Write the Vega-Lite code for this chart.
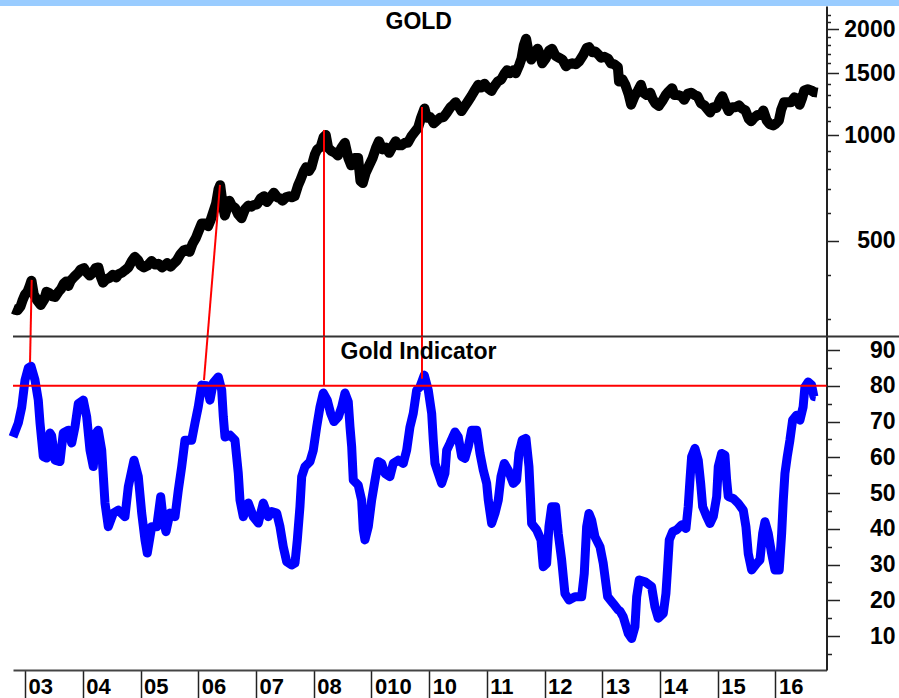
{
  "$schema": "https://vega.github.io/schema/vega-lite/v6.json",
  "width": 899,
  "height": 692,
  "autosize": {"type": "none"},
  "padding": {"top": 6, "left": 0, "right": 0, "bottom": 0},
  "background": "#99ccff",
  "config": {"view": {"fill": "white", "stroke": null}, "font": "Liberation Sans"},
  "datasets": {
    "gold": [
      {"year": 2002.79, "price": 320}, {"year": 2002.83, "price": 318}, {"year": 2002.87, "price": 317}, {"year": 2002.92, "price": 325}, {"year": 2002.96, "price": 340},
      {"year": 2003.00, "price": 352}, {"year": 2003.04, "price": 358}, {"year": 2003.08, "price": 372}, {"year": 2003.11, "price": 385}, {"year": 2003.15, "price": 352},
      {"year": 2003.21, "price": 338}, {"year": 2003.27, "price": 328}, {"year": 2003.33, "price": 340}, {"year": 2003.37, "price": 358}, {"year": 2003.42, "price": 355},
      {"year": 2003.46, "price": 348}, {"year": 2003.52, "price": 346}, {"year": 2003.58, "price": 358}, {"year": 2003.62, "price": 364}, {"year": 2003.67, "price": 378},
      {"year": 2003.71, "price": 383}, {"year": 2003.75, "price": 372}, {"year": 2003.79, "price": 385}, {"year": 2003.85, "price": 395}, {"year": 2003.92, "price": 405},
      {"year": 2003.96, "price": 414}, {"year": 2004.02, "price": 418}, {"year": 2004.06, "price": 408}, {"year": 2004.12, "price": 398}, {"year": 2004.17, "price": 405},
      {"year": 2004.22, "price": 418}, {"year": 2004.27, "price": 420}, {"year": 2004.31, "price": 395}, {"year": 2004.35, "price": 380}, {"year": 2004.40, "price": 388},
      {"year": 2004.46, "price": 392}, {"year": 2004.52, "price": 400}, {"year": 2004.58, "price": 393}, {"year": 2004.62, "price": 402}, {"year": 2004.67, "price": 405},
      {"year": 2004.73, "price": 412}, {"year": 2004.79, "price": 420}, {"year": 2004.85, "price": 438}, {"year": 2004.90, "price": 450}, {"year": 2004.96, "price": 440},
      {"year": 2005.00, "price": 426}, {"year": 2005.06, "price": 420}, {"year": 2005.12, "price": 425}, {"year": 2005.19, "price": 438}, {"year": 2005.25, "price": 428},
      {"year": 2005.31, "price": 430}, {"year": 2005.37, "price": 420}, {"year": 2005.42, "price": 425}, {"year": 2005.46, "price": 432}, {"year": 2005.52, "price": 422},
      {"year": 2005.58, "price": 432}, {"year": 2005.63, "price": 440}, {"year": 2005.69, "price": 458}, {"year": 2005.75, "price": 470}, {"year": 2005.79, "price": 472},
      {"year": 2005.85, "price": 465}, {"year": 2005.90, "price": 490}, {"year": 2005.96, "price": 510}, {"year": 2006.00, "price": 530}, {"year": 2006.06, "price": 560},
      {"year": 2006.12, "price": 560}, {"year": 2006.17, "price": 550}, {"year": 2006.21, "price": 570}, {"year": 2006.27, "price": 610}, {"year": 2006.31, "price": 640},
      {"year": 2006.35, "price": 700}, {"year": 2006.38, "price": 720}, {"year": 2006.42, "price": 640}, {"year": 2006.46, "price": 590}, {"year": 2006.50, "price": 620},
      {"year": 2006.54, "price": 650}, {"year": 2006.58, "price": 630}, {"year": 2006.64, "price": 620}, {"year": 2006.69, "price": 595}, {"year": 2006.75, "price": 580},
      {"year": 2006.81, "price": 615}, {"year": 2006.87, "price": 630}, {"year": 2006.92, "price": 625}, {"year": 2006.96, "price": 632}, {"year": 2007.02, "price": 635},
      {"year": 2007.08, "price": 660}, {"year": 2007.14, "price": 670}, {"year": 2007.19, "price": 645}, {"year": 2007.25, "price": 665}, {"year": 2007.31, "price": 685},
      {"year": 2007.37, "price": 665}, {"year": 2007.42, "price": 660}, {"year": 2007.46, "price": 650}, {"year": 2007.52, "price": 665}, {"year": 2007.58, "price": 670},
      {"year": 2007.62, "price": 665}, {"year": 2007.67, "price": 670}, {"year": 2007.73, "price": 720}, {"year": 2007.77, "price": 745}, {"year": 2007.83, "price": 790},
      {"year": 2007.87, "price": 810}, {"year": 2007.92, "price": 790}, {"year": 2007.96, "price": 810}, {"year": 2008.02, "price": 880}, {"year": 2008.06, "price": 910},
      {"year": 2008.12, "price": 925}, {"year": 2008.17, "price": 985}, {"year": 2008.21, "price": 1000}, {"year": 2008.25, "price": 920}, {"year": 2008.31, "price": 900},
      {"year": 2008.37, "price": 890}, {"year": 2008.42, "price": 875}, {"year": 2008.48, "price": 920}, {"year": 2008.54, "price": 950}, {"year": 2008.60, "price": 860},
      {"year": 2008.65, "price": 820}, {"year": 2008.71, "price": 860}, {"year": 2008.77, "price": 860}, {"year": 2008.81, "price": 740}, {"year": 2008.85, "price": 730},
      {"year": 2008.90, "price": 780}, {"year": 2008.96, "price": 820}, {"year": 2009.02, "price": 860}, {"year": 2009.08, "price": 920}, {"year": 2009.13, "price": 960},
      {"year": 2009.19, "price": 910}, {"year": 2009.25, "price": 920}, {"year": 2009.31, "price": 890}, {"year": 2009.37, "price": 930}, {"year": 2009.42, "price": 960},
      {"year": 2009.46, "price": 935}, {"year": 2009.52, "price": 935}, {"year": 2009.58, "price": 950}, {"year": 2009.63, "price": 950}, {"year": 2009.69, "price": 990},
      {"year": 2009.75, "price": 1020}, {"year": 2009.81, "price": 1050}, {"year": 2009.86, "price": 1120}, {"year": 2009.92, "price": 1190}, {"year": 2009.96, "price": 1120},
      {"year": 2010.02, "price": 1125}, {"year": 2010.08, "price": 1080}, {"year": 2010.12, "price": 1095}, {"year": 2010.19, "price": 1120}, {"year": 2010.25, "price": 1125},
      {"year": 2010.31, "price": 1160}, {"year": 2010.37, "price": 1200}, {"year": 2010.42, "price": 1220}, {"year": 2010.46, "price": 1240}, {"year": 2010.52, "price": 1200},
      {"year": 2010.56, "price": 1170}, {"year": 2010.62, "price": 1210}, {"year": 2010.67, "price": 1245}, {"year": 2010.73, "price": 1290}, {"year": 2010.79, "price": 1340},
      {"year": 2010.85, "price": 1390}, {"year": 2010.90, "price": 1365}, {"year": 2010.96, "price": 1400}, {"year": 2011.02, "price": 1360}, {"year": 2011.08, "price": 1335},
      {"year": 2011.12, "price": 1370}, {"year": 2011.19, "price": 1420}, {"year": 2011.25, "price": 1440}, {"year": 2011.31, "price": 1500}, {"year": 2011.35, "price": 1530},
      {"year": 2011.40, "price": 1500}, {"year": 2011.46, "price": 1530}, {"year": 2011.50, "price": 1500}, {"year": 2011.56, "price": 1580}, {"year": 2011.60, "price": 1650},
      {"year": 2011.64, "price": 1800}, {"year": 2011.68, "price": 1880}, {"year": 2011.73, "price": 1700}, {"year": 2011.77, "price": 1640}, {"year": 2011.83, "price": 1720},
      {"year": 2011.88, "price": 1760}, {"year": 2011.92, "price": 1700}, {"year": 2011.96, "price": 1600}, {"year": 2012.02, "price": 1650}, {"year": 2012.08, "price": 1740},
      {"year": 2012.13, "price": 1760}, {"year": 2012.19, "price": 1680}, {"year": 2012.25, "price": 1660}, {"year": 2012.31, "price": 1640}, {"year": 2012.37, "price": 1570},
      {"year": 2012.42, "price": 1590}, {"year": 2012.48, "price": 1600}, {"year": 2012.54, "price": 1590}, {"year": 2012.60, "price": 1620}, {"year": 2012.67, "price": 1690},
      {"year": 2012.73, "price": 1770}, {"year": 2012.77, "price": 1780}, {"year": 2012.83, "price": 1720}, {"year": 2012.88, "price": 1730}, {"year": 2012.94, "price": 1690},
      {"year": 2012.98, "price": 1660}, {"year": 2013.04, "price": 1670}, {"year": 2013.10, "price": 1650}, {"year": 2013.15, "price": 1600}, {"year": 2013.21, "price": 1590},
      {"year": 2013.27, "price": 1560}, {"year": 2013.29, "price": 1420}, {"year": 2013.35, "price": 1440}, {"year": 2013.40, "price": 1390}, {"year": 2013.46, "price": 1300},
      {"year": 2013.50, "price": 1220}, {"year": 2013.56, "price": 1290}, {"year": 2013.62, "price": 1340}, {"year": 2013.67, "price": 1390}, {"year": 2013.71, "price": 1320},
      {"year": 2013.77, "price": 1300}, {"year": 2013.83, "price": 1320}, {"year": 2013.87, "price": 1270}, {"year": 2013.92, "price": 1230}, {"year": 2013.98, "price": 1210},
      {"year": 2014.04, "price": 1250}, {"year": 2014.10, "price": 1300}, {"year": 2014.15, "price": 1330}, {"year": 2014.21, "price": 1360}, {"year": 2014.25, "price": 1300},
      {"year": 2014.31, "price": 1300}, {"year": 2014.37, "price": 1290}, {"year": 2014.42, "price": 1260}, {"year": 2014.48, "price": 1310}, {"year": 2014.54, "price": 1320},
      {"year": 2014.60, "price": 1300}, {"year": 2014.65, "price": 1290}, {"year": 2014.71, "price": 1230}, {"year": 2014.77, "price": 1215}, {"year": 2014.83, "price": 1180},
      {"year": 2014.87, "price": 1160}, {"year": 2014.92, "price": 1200}, {"year": 2014.98, "price": 1195}, {"year": 2015.04, "price": 1260}, {"year": 2015.08, "price": 1290},
      {"year": 2015.13, "price": 1230}, {"year": 2015.19, "price": 1170}, {"year": 2015.25, "price": 1200}, {"year": 2015.31, "price": 1200}, {"year": 2015.37, "price": 1215},
      {"year": 2015.42, "price": 1190}, {"year": 2015.48, "price": 1175}, {"year": 2015.54, "price": 1110}, {"year": 2015.58, "price": 1095}, {"year": 2015.63, "price": 1120},
      {"year": 2015.69, "price": 1140}, {"year": 2015.75, "price": 1140}, {"year": 2015.79, "price": 1175}, {"year": 2015.85, "price": 1100}, {"year": 2015.90, "price": 1075},
      {"year": 2015.96, "price": 1065}, {"year": 2016.00, "price": 1075}, {"year": 2016.06, "price": 1100}, {"year": 2016.10, "price": 1180}, {"year": 2016.15, "price": 1240},
      {"year": 2016.21, "price": 1240}, {"year": 2016.27, "price": 1240}, {"year": 2016.33, "price": 1280}, {"year": 2016.38, "price": 1270}, {"year": 2016.42, "price": 1220},
      {"year": 2016.46, "price": 1270}, {"year": 2016.50, "price": 1340}, {"year": 2016.56, "price": 1350}, {"year": 2016.62, "price": 1340}, {"year": 2016.67, "price": 1325},
      {"year": 2016.73, "price": 1320}
    ],
    "indicator": [
      {"year": 2002.79, "v": 65.7}, {"year": 2002.882, "v": 69.6}, {"year": 2002.941, "v": 74}, {"year": 2002.998, "v": 81.6}, {"year": 2003.055, "v": 85},
      {"year": 2003.102, "v": 85.5}, {"year": 2003.171, "v": 81.6}, {"year": 2003.228, "v": 76}, {"year": 2003.258, "v": 69.6}, {"year": 2003.287, "v": 64.8},
      {"year": 2003.315, "v": 60.2}, {"year": 2003.374, "v": 59.8}, {"year": 2003.431, "v": 66.8}, {"year": 2003.46, "v": 66}, {"year": 2003.518, "v": 59.2},
      {"year": 2003.604, "v": 58.8}, {"year": 2003.661, "v": 66.8}, {"year": 2003.748, "v": 67.6}, {"year": 2003.807, "v": 64}, {"year": 2003.864, "v": 68.5},
      {"year": 2003.921, "v": 75}, {"year": 2004.008, "v": 76}, {"year": 2004.067, "v": 71.3}, {"year": 2004.124, "v": 62}, {"year": 2004.181, "v": 57.4},
      {"year": 2004.228, "v": 66.8}, {"year": 2004.268, "v": 67.6}, {"year": 2004.327, "v": 62}, {"year": 2004.384, "v": 47.2}, {"year": 2004.441, "v": 40.6},
      {"year": 2004.528, "v": 44.4}, {"year": 2004.614, "v": 45.2}, {"year": 2004.73, "v": 43.4}, {"year": 2004.788, "v": 51.8}, {"year": 2004.886, "v": 59.2},
      {"year": 2004.961, "v": 54.6}, {"year": 2005.02, "v": 44.4}, {"year": 2005.077, "v": 36.9}, {"year": 2005.117, "v": 33.2}, {"year": 2005.193, "v": 40.6},
      {"year": 2005.28, "v": 40.6}, {"year": 2005.349, "v": 49}, {"year": 2005.394, "v": 42.4}, {"year": 2005.441, "v": 39.2}, {"year": 2005.51, "v": 44.4},
      {"year": 2005.597, "v": 43.4}, {"year": 2005.654, "v": 50.8}, {"year": 2005.713, "v": 57.4}, {"year": 2005.77, "v": 64.8}, {"year": 2005.886, "v": 64.8},
      {"year": 2005.943, "v": 69.6}, {"year": 2006.0, "v": 74.1}, {"year": 2006.059, "v": 80.2}, {"year": 2006.146, "v": 80}, {"year": 2006.203, "v": 76},
      {"year": 2006.26, "v": 80.8}, {"year": 2006.347, "v": 82.5}, {"year": 2006.406, "v": 78.8}, {"year": 2006.434, "v": 71.3}, {"year": 2006.463, "v": 65.7},
      {"year": 2006.55, "v": 66.2}, {"year": 2006.636, "v": 64.8}, {"year": 2006.693, "v": 55.6}, {"year": 2006.723, "v": 48}, {"year": 2006.78, "v": 43.4},
      {"year": 2006.867, "v": 47.2}, {"year": 2006.953, "v": 43.4}, {"year": 2007.04, "v": 41.6}, {"year": 2007.126, "v": 47.2}, {"year": 2007.213, "v": 43.4},
      {"year": 2007.272, "v": 44.8}, {"year": 2007.359, "v": 44.4}, {"year": 2007.416, "v": 40.6}, {"year": 2007.473, "v": 35}, {"year": 2007.532, "v": 30.8},
      {"year": 2007.618, "v": 29.9}, {"year": 2007.676, "v": 30.4}, {"year": 2007.716, "v": 36.9}, {"year": 2007.762, "v": 46.2}, {"year": 2007.792, "v": 54.6},
      {"year": 2007.849, "v": 57.4}, {"year": 2007.936, "v": 58.8}, {"year": 2007.993, "v": 62}, {"year": 2008.052, "v": 68.5}, {"year": 2008.109, "v": 74.1},
      {"year": 2008.166, "v": 78}, {"year": 2008.235, "v": 76}, {"year": 2008.294, "v": 72.3}, {"year": 2008.351, "v": 70}, {"year": 2008.426, "v": 71.3},
      {"year": 2008.485, "v": 74.1}, {"year": 2008.542, "v": 78}, {"year": 2008.599, "v": 75.5}, {"year": 2008.629, "v": 68.5}, {"year": 2008.658, "v": 63},
      {"year": 2008.686, "v": 53.6}, {"year": 2008.772, "v": 52.2}, {"year": 2008.831, "v": 48}, {"year": 2008.859, "v": 39.7}, {"year": 2008.888, "v": 36.9},
      {"year": 2008.946, "v": 40.6}, {"year": 2009.004, "v": 48}, {"year": 2009.062, "v": 53.6}, {"year": 2009.119, "v": 58.8}, {"year": 2009.178, "v": 58.3},
      {"year": 2009.235, "v": 55.5}, {"year": 2009.321, "v": 54.6}, {"year": 2009.379, "v": 58.3}, {"year": 2009.465, "v": 59.2}, {"year": 2009.552, "v": 58.3},
      {"year": 2009.611, "v": 62}, {"year": 2009.668, "v": 68.5}, {"year": 2009.725, "v": 72.3}, {"year": 2009.784, "v": 78.8}, {"year": 2009.841, "v": 79.7},
      {"year": 2009.916, "v": 83}, {"year": 2009.985, "v": 78.8}, {"year": 2010.044, "v": 72.3}, {"year": 2010.072, "v": 64.8}, {"year": 2010.101, "v": 58.3},
      {"year": 2010.158, "v": 55.5}, {"year": 2010.217, "v": 52.7}, {"year": 2010.274, "v": 55.5}, {"year": 2010.304, "v": 62}, {"year": 2010.361, "v": 63.9},
      {"year": 2010.448, "v": 67.1}, {"year": 2010.505, "v": 65.7}, {"year": 2010.564, "v": 60.2}, {"year": 2010.621, "v": 59.7}, {"year": 2010.678, "v": 63},
      {"year": 2010.737, "v": 67.6}, {"year": 2010.824, "v": 67.6}, {"year": 2010.881, "v": 61.1}, {"year": 2010.938, "v": 56.4}, {"year": 2010.997, "v": 52.7},
      {"year": 2011.025, "v": 48}, {"year": 2011.083, "v": 41.5}, {"year": 2011.141, "v": 44.3}, {"year": 2011.198, "v": 48}, {"year": 2011.245, "v": 54.6},
      {"year": 2011.302, "v": 58.3}, {"year": 2011.371, "v": 56.4}, {"year": 2011.458, "v": 52.7}, {"year": 2011.516, "v": 53.6}, {"year": 2011.556, "v": 61.1},
      {"year": 2011.613, "v": 64.8}, {"year": 2011.678, "v": 65.3}, {"year": 2011.73, "v": 57.4}, {"year": 2011.752, "v": 49.9}, {"year": 2011.776, "v": 41.5},
      {"year": 2011.863, "v": 39.7}, {"year": 2011.938, "v": 36.9}, {"year": 2011.977, "v": 29.4}, {"year": 2012.036, "v": 30.3}, {"year": 2012.076, "v": 40.6},
      {"year": 2012.123, "v": 46.2}, {"year": 2012.192, "v": 46.2}, {"year": 2012.237, "v": 38.7}, {"year": 2012.296, "v": 31.3}, {"year": 2012.353, "v": 21.9},
      {"year": 2012.423, "v": 20.1}, {"year": 2012.527, "v": 21}, {"year": 2012.643, "v": 21}, {"year": 2012.688, "v": 27.5}, {"year": 2012.729, "v": 40.6},
      {"year": 2012.769, "v": 44.3}, {"year": 2012.816, "v": 42.4}, {"year": 2012.873, "v": 37.8}, {"year": 2012.96, "v": 35}, {"year": 2013.017, "v": 30.3},
      {"year": 2013.093, "v": 21}, {"year": 2013.19, "v": 19.1}, {"year": 2013.277, "v": 17.3}, {"year": 2013.306, "v": 17}, {"year": 2013.363, "v": 15.4},
      {"year": 2013.45, "v": 10.7}, {"year": 2013.509, "v": 9.3}, {"year": 2013.566, "v": 12.6}, {"year": 2013.596, "v": 21}, {"year": 2013.641, "v": 25.7},
      {"year": 2013.739, "v": 25.2}, {"year": 2013.855, "v": 23.8}, {"year": 2013.912, "v": 18.2}, {"year": 2013.97, "v": 15}, {"year": 2014.057, "v": 16.3},
      {"year": 2014.103, "v": 21.9}, {"year": 2014.133, "v": 29.4}, {"year": 2014.161, "v": 36.9}, {"year": 2014.219, "v": 39.2}, {"year": 2014.289, "v": 39.7},
      {"year": 2014.375, "v": 41.1}, {"year": 2014.45, "v": 40.1}, {"year": 2014.489, "v": 46.2}, {"year": 2014.519, "v": 53.6}, {"year": 2014.548, "v": 60.2},
      {"year": 2014.606, "v": 62.5}, {"year": 2014.663, "v": 59.2}, {"year": 2014.705, "v": 52.7}, {"year": 2014.739, "v": 46.2}, {"year": 2014.809, "v": 43.4},
      {"year": 2014.866, "v": 41.5}, {"year": 2014.923, "v": 43.4}, {"year": 2014.982, "v": 49}, {"year": 2015.01, "v": 57.4}, {"year": 2015.068, "v": 61.1},
      {"year": 2015.125, "v": 60.6}, {"year": 2015.155, "v": 53.6}, {"year": 2015.183, "v": 49}, {"year": 2015.269, "v": 48.5}, {"year": 2015.356, "v": 47.1},
      {"year": 2015.443, "v": 45.2}, {"year": 2015.489, "v": 40.6}, {"year": 2015.529, "v": 33.1}, {"year": 2015.588, "v": 28.5}, {"year": 2015.675, "v": 30.3},
      {"year": 2015.732, "v": 31.3}, {"year": 2015.779, "v": 38.7}, {"year": 2015.819, "v": 42}, {"year": 2015.876, "v": 38.7}, {"year": 2015.934, "v": 33.1},
      {"year": 2015.992, "v": 28.5}, {"year": 2016.066, "v": 28.5}, {"year": 2016.108, "v": 38.7}, {"year": 2016.136, "v": 48}, {"year": 2016.165, "v": 55.5},
      {"year": 2016.205, "v": 60.2}, {"year": 2016.251, "v": 64.8}, {"year": 2016.298, "v": 70.4}, {"year": 2016.368, "v": 71.8}, {"year": 2016.425, "v": 70.4},
      {"year": 2016.48, "v": 74.1}, {"year": 2016.511, "v": 79.7}, {"year": 2016.568, "v": 81.1}, {"year": 2016.627, "v": 80.2}, {"year": 2016.667, "v": 77},
      {"year": 2016.702, "v": 76.9}
    ],
    "linksTop": [
      {"year": 2003.114, "price": 387, "year2": 2003.094, "price2": 267},
      {"year": 2006.376, "price": 721, "year2": 2006.161, "price2": 267},
      {"year": 2008.178, "price": 1034, "year2": 2008.178, "price2": 267},
      {"year": 2009.876, "price": 1202, "year2": 2009.876, "price2": 267}
    ],
    "linksBottom": [
      {"year": 2003.094, "v": 93.8, "year2": 2003.085, "v2": 86.6},
      {"year": 2006.161, "v": 93.8, "year2": 2006.099, "v2": 81.6},
      {"year": 2008.178, "v": 93.8, "year2": 2008.178, "v2": 80},
      {"year": 2009.876, "v": 93.8, "year2": 2009.876, "v2": 82}
    ]
  },
  "layer": [
    {
      "layer": [
        {
          "data": {"name": "gold"},
          "mark": {"type": "line", "color": "black", "strokeWidth": 10, "strokeJoin": "round"},
          "encoding": {
            "x": {
              "field": "year", "type": "quantitative",
              "scale": {"domain": [2002.79, 2016.885], "range": [13, 826.5], "nice": false, "zero": false},
              "axis": {
                "orient": "bottom", "offset": -28, "values": [2003, 2004, 2005, 2006, 2007, 2008, 2009, 2010, 2011, 2012, 2013, 2014, 2015, 2016],
                "title": null, "grid": false, "domain": true, "domainColor": "#444", "domainWidth": 2,
                "ticks": true, "tickSize": 28, "tickColor": "#222", "tickWidth": 1.5,
                "labelAlign": "left", "labelBaseline": "alphabetic", "labelPadding": -5, "labelOffset": 3,
                "labelFont": "Liberation Sans", "labelFontSize": 22, "labelFontWeight": "bold", "labelColor": "black",
                "labelOverlap": false, "labelBound": false, "labelFlush": false,
                "labelExpr": "datum.value == 2009 ? '010' : (datum.value < 2010 ? '0' + (datum.value - 2000) : '' + (datum.value - 2000))"
              }
            },
            "y": {
              "field": "price", "type": "quantitative", "title": null,
              "scale": {"type": "log", "domain": [267, 2330], "range": [330.5, 0], "nice": false, "zero": false},
              "axis": {
                "orient": "right", "offset": -72.5, "title": null, "grid": false,
                "values": [300, 400, 500, 600, 700, 800, 900, 1000, 1100, 1200, 1300, 1400, 1500, 1600, 1700, 1800, 1900, 2000, 2100, 2200],
                "domainColor": "#222", "domainWidth": 2, "tickColor": "#222", "tickWidth": 1.5,
                "tickSize": {"condition": {"test": "datum.value == 500 || datum.value == 1000 || datum.value == 1500 || datum.value == 2000", "value": 12}, "value": 4},
                "labelExpr": "(datum.value == 500 || datum.value == 1000 || datum.value == 1500 || datum.value == 2000) ? '' + datum.value : ''",
                "labelAlign": "right", "labelBaseline": "middle", "labelPadding": 56.5,
                "labelFont": "Liberation Sans", "labelFontSize": 23, "labelFontWeight": "bold", "labelColor": "black",
                "labelOverlap": false, "labelBound": false, "labelFlush": false
              }
            }
          }
        },
        {
          "data": {"name": "linksTop"},
          "mark": {"type": "rule", "color": "#ff0000", "strokeWidth": 2},
          "encoding": {
            "x": {"field": "year", "type": "quantitative", "title": null},
            "x2": {"field": "year2"},
            "y": {"field": "price", "type": "quantitative", "title": null},
            "y2": {"field": "price2"}
          }
        },
        {
          "data": {"values": [{}]},
          "mark": {"type": "rule", "color": "#333333", "strokeWidth": 2},
          "encoding": {
            "x": {"datum": 2002.79, "type": "quantitative"},
            "x2": {"datum": 2018.2},
            "y": {"datum": 267, "type": "quantitative"}
          }
        },
        {
          "data": {"values": [{}]},
          "mark": {"type": "text", "text": "GOLD", "font": "Liberation Sans", "fontSize": 23, "fontWeight": "bold", "color": "black", "align": "center", "baseline": "alphabetic"},
          "encoding": {
            "x": {"datum": 2009.82, "type": "quantitative"},
            "y": {"datum": 2000, "type": "quantitative"}
          }
        }
      ]
    },
    {
      "layer": [
        {
          "data": {"name": "indicator"},
          "mark": {"type": "line", "color": "#0000ff", "strokeWidth": 9, "strokeJoin": "round"},
          "encoding": {
            "x": {"field": "year", "type": "quantitative", "title": null},
            "y": {
              "field": "v", "type": "quantitative", "title": null,
              "scale": {"type": "linear", "domain": [0.5, 93.8], "range": [664, 330.5], "nice": false, "zero": false},
              "axis": {
                "orient": "right", "offset": -72.5, "title": null, "grid": false,
                "values": [5, 10, 15, 20, 25, 30, 35, 40, 45, 50, 55, 60, 65, 70, 75, 80, 85, 90],
                "domainColor": "#222", "domainWidth": 2, "tickColor": "#222", "tickWidth": 1.5,
                "tickSize": {"condition": {"test": "datum.value % 10 == 0", "value": 13}, "value": 5},
                "labelExpr": "datum.value % 10 == 0 ? '' + datum.value : ''",
                "labelAlign": "right", "labelBaseline": "middle", "labelPadding": 55.5,
                "labelFont": "Liberation Sans", "labelFontSize": 23, "labelFontWeight": "bold", "labelColor": "black",
                "labelOverlap": false, "labelBound": false, "labelFlush": false
              }
            }
          }
        },
        {
          "data": {"values": [{}]},
          "mark": {"type": "rule", "color": "#ff0000", "strokeWidth": 2},
          "encoding": {
            "x": {"datum": 2002.79, "type": "quantitative"},
            "x2": {"datum": 2016.885},
            "y": {"datum": 80, "type": "quantitative"}
          }
        },
        {
          "data": {"name": "linksBottom"},
          "mark": {"type": "rule", "color": "#ff0000", "strokeWidth": 2},
          "encoding": {
            "x": {"field": "year", "type": "quantitative", "title": null},
            "x2": {"field": "year2"},
            "y": {"field": "v", "type": "quantitative", "title": null},
            "y2": {"field": "v2"}
          }
        },
        {
          "data": {"values": [{}]},
          "mark": {"type": "text", "text": "Gold Indicator", "font": "Liberation Sans", "fontSize": 23, "fontWeight": "bold", "color": "black", "align": "center", "baseline": "alphabetic"},
          "encoding": {
            "x": {"datum": 2009.815, "type": "quantitative"},
            "y": {"datum": 87.6, "type": "quantitative"}
          }
        }
      ]
    }
  ],
  "resolve": {"scale": {"y": "independent"}, "axis": {"y": "independent"}}
}
